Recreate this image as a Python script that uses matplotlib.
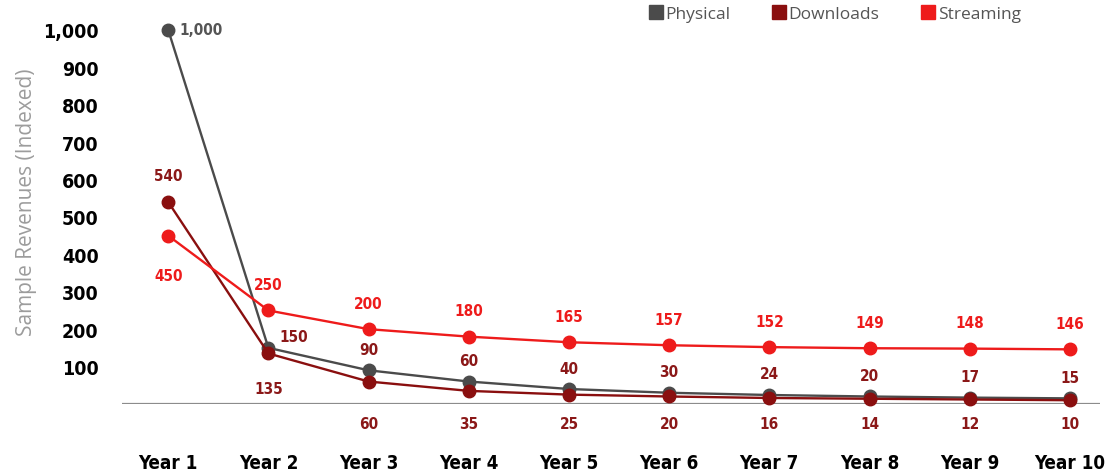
import numpy as np
import matplotlib
matplotlib.use('Agg')
import matplotlib.pyplot as plt
from matplotlib.lines import Line2D

# values
years = ['Year 1', 'Year 2', 'Year 3', 'Year 4', 'Year 5',
         'Year 6', 'Year 7', 'Year 8', 'Year 9', 'Year 10']
physical = [1000, 150, 90, 60, 40, 30, 24, 20, 17, 15]
downloads = [540, 135, 60, 35, 25, 20, 16, 14, 12, 10]
streaming = [450, 250, 200, 180, 165, 157, 152, 149, 148, 146]
y_ticks = [100, 200, 300, 400, 500, 600, 700, 800, 900, 1000]

c_phys = '#4b4b4b'
c_down = '#8a0f0f'
c_stream = '#ee1b1b'
c_lab_dark = '#8b1818'

num_font = dict(family='DejaVu Sans', stretch='condensed', fontweight='bold')

fig = plt.figure(figsize=(11.1, 4.77), dpi=100)
ax = fig.add_axes([0.110, 0.151, 0.881, 0.807])
x = np.arange(1, len(years) + 1)

ax.axhline(0, color='#8c8c8c', lw=1.6, zorder=1)
for vals, c, z in [(physical, c_phys, 3), (downloads, c_down, 4), (streaming, c_stream, 5)]:
    ax.plot(x, vals, color=c, lw=1.7, marker='o', ms=9, zorder=z, clip_on=False)

ax.set_xlim(0.54, 10.3)
ax.set_ylim(0, 1029)
for s in ax.spines.values():
    s.set_visible(False)
ax.set_yticks(y_ticks)
ax.set_yticklabels(['{:,}'.format(v) for v in y_ticks], fontsize=14, **num_font)
ax.set_xticks(x)
ax.set_xticklabels(years, fontsize=13.5, **num_font)
ax.tick_params(axis='y', length=0, pad=17)
ax.tick_params(axis='x', length=0, pad=35)


def lab(i, val, text, dx, dy, color, ha='center'):
    ax.annotate(text, (x[i], val), xytext=(dx * 0.72, dy * 0.72),
                textcoords='offset points', ha=ha, va='center', color=color,
                fontsize=11, annotation_clip=False, **num_font)


# physical labels
lab(0, physical[0], '1,000', 11, 0, '#555555', ha='left')
lab(1, physical[1], str(physical[1]), 25, 11, c_lab_dark)
for i in range(2, len(years)):
    lab(i, physical[i], str(physical[i]), 0, 21, c_lab_dark)

# downloads labels
lab(0, downloads[0], str(downloads[0]), 0, 26, c_lab_dark)
lab(1, downloads[1], str(downloads[1]), 0, -35, c_lab_dark)
for i in range(2, len(years)):
    ax.text(x[i], -53, str(downloads[i]), ha='center', va='center', color=c_lab_dark,
            fontsize=11, clip_on=False, **num_font)

# streaming labels
lab(0, streaming[0], str(streaming[0]), 0, -40, c_stream)
for i in range(1, len(years)):
    lab(i, streaming[i], str(streaming[i]), 0, 26, c_stream)

fig.text(0.024, 0.577, 'Sample Revenues (Indexed)', rotation=90, ha='center', va='center',
         color='#9c9c9c', fontsize=15, family='Open Sans')

handles = [Line2D([], [], marker='s', ls='none', color=c, markersize=10)
           for c in (c_phys, c_down, c_stream)]
fig.legend(handles, ['Physical', 'Downloads', 'Streaming'], loc='center',
           bbox_to_anchor=(0.752, 0.969), ncol=3, frameon=False,
           handletextpad=0.15, columnspacing=2.4, handlelength=0.8,
           prop={'family': 'Open Sans', 'size': 12.5}, labelcolor='#555555')

fig.savefig('out.png', dpi=100)
